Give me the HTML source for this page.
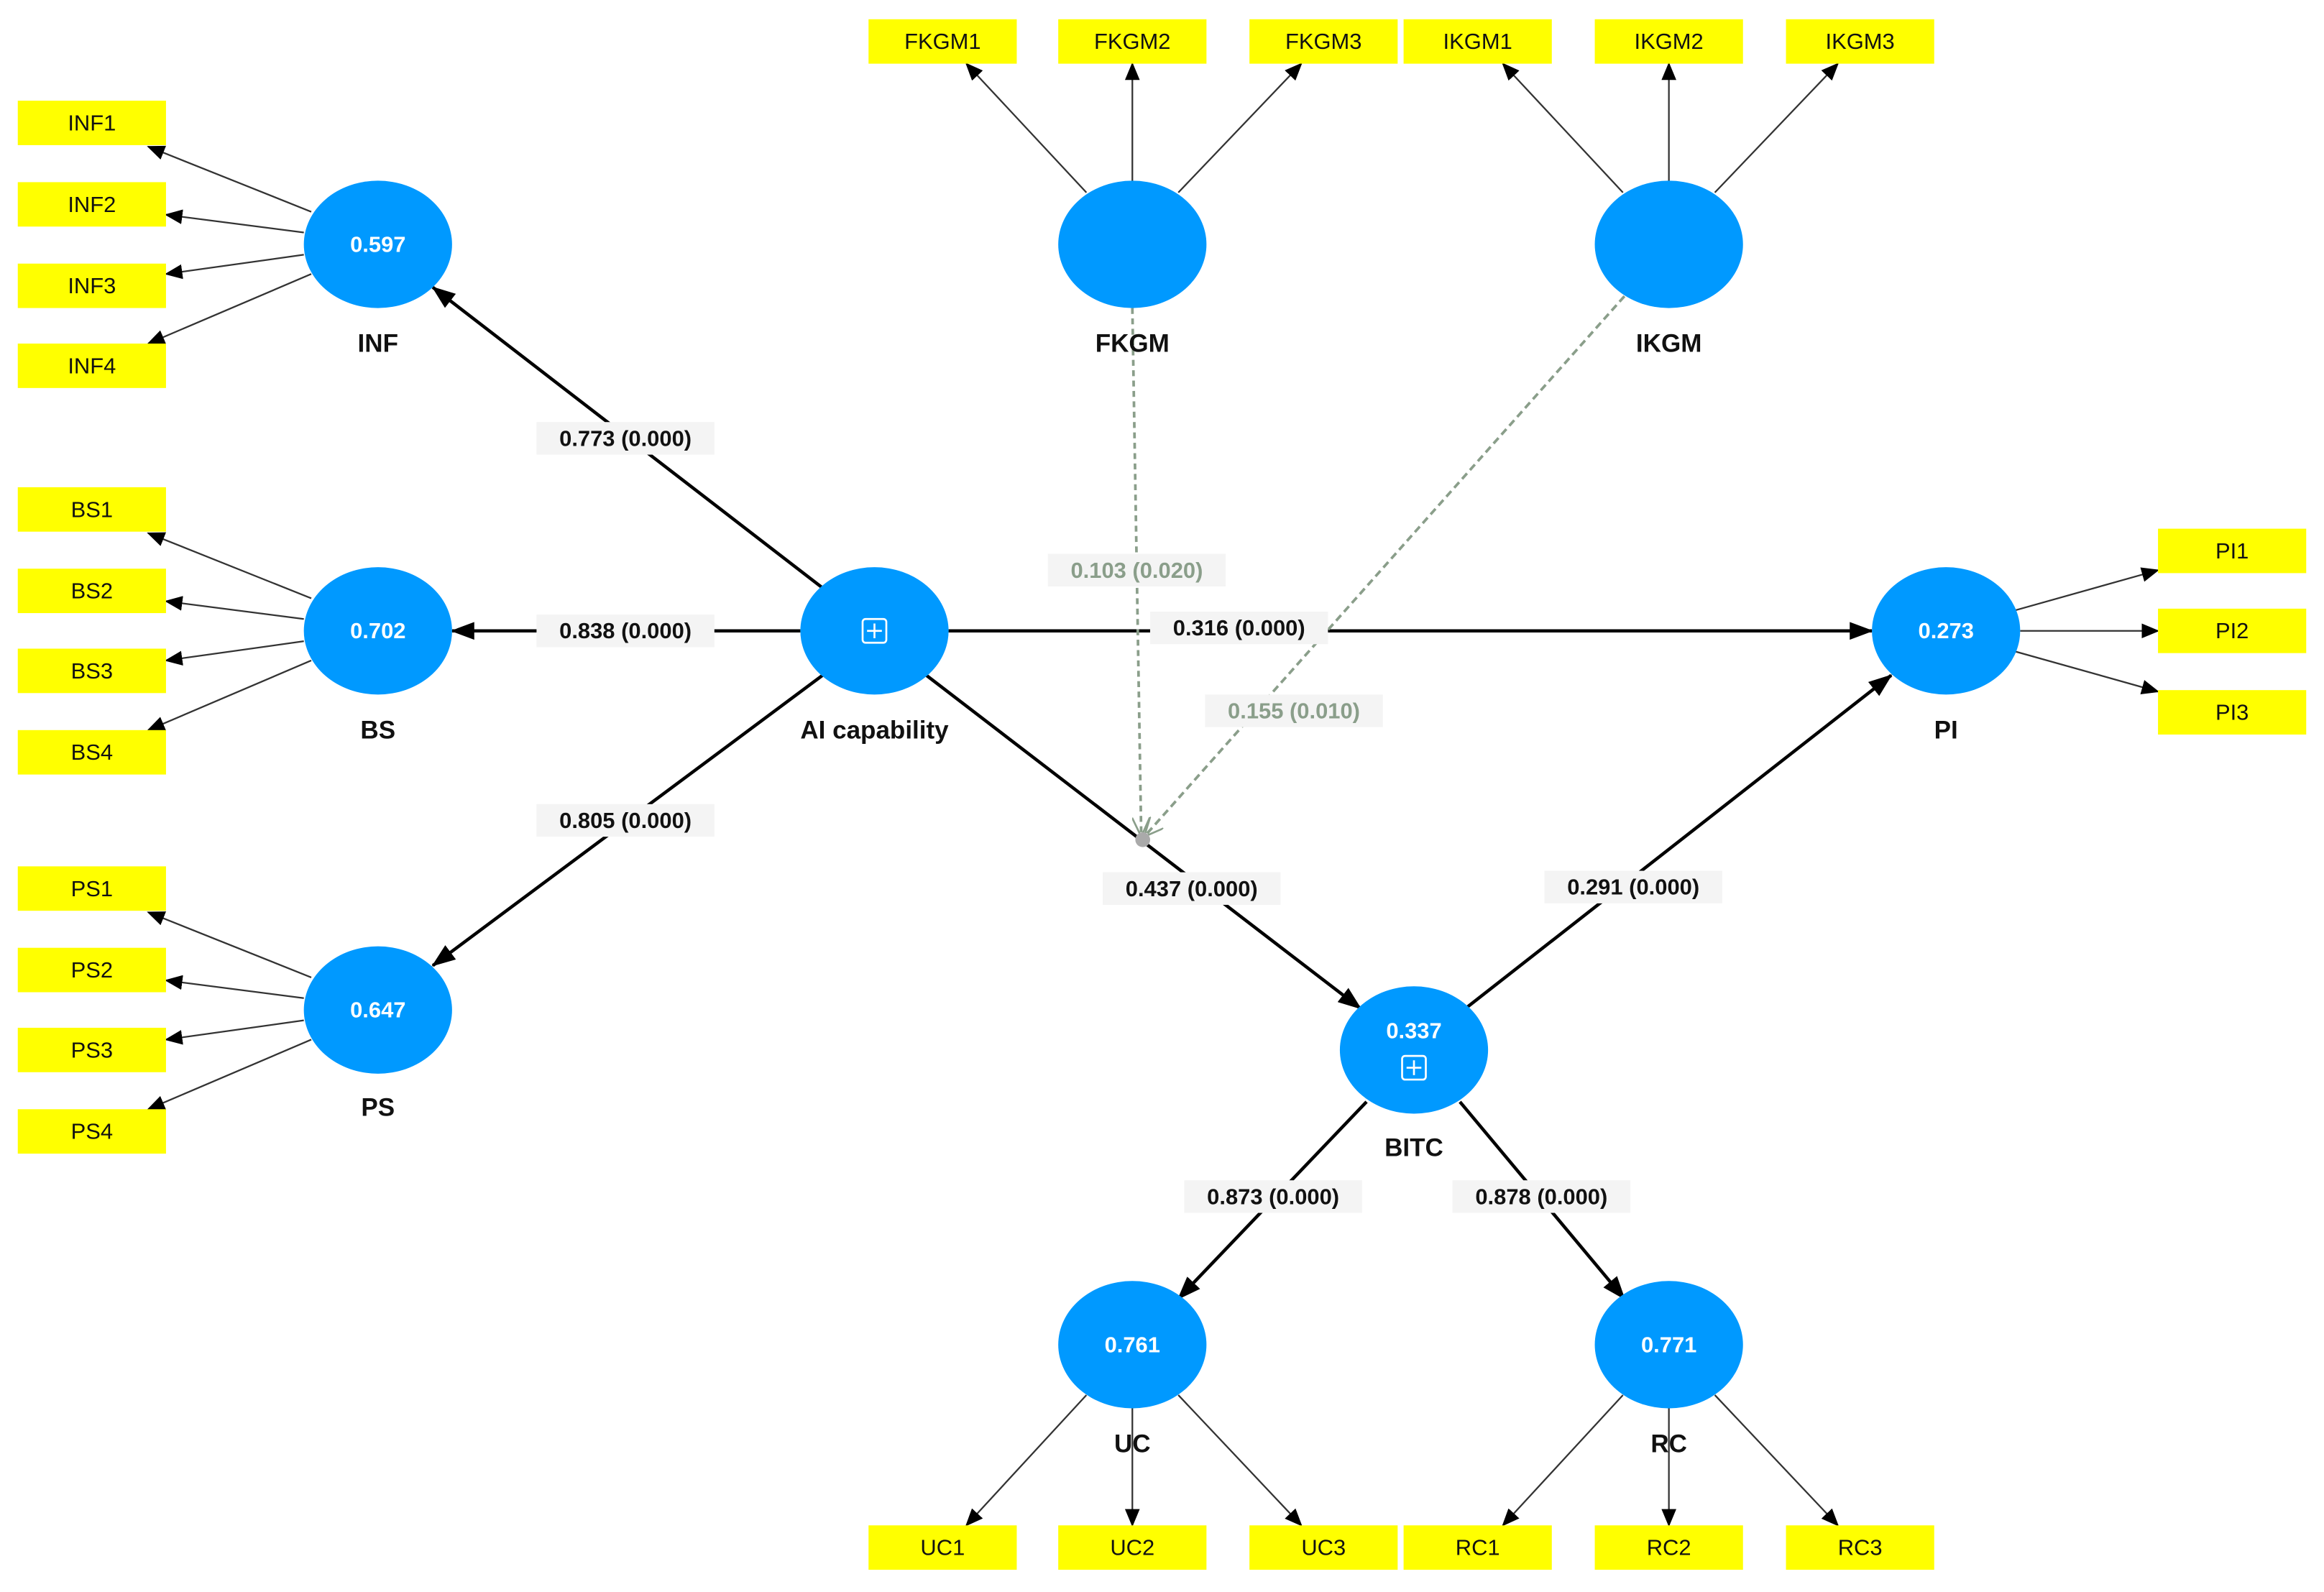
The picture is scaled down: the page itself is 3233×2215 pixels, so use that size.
<!DOCTYPE html>
<html><head><meta charset="utf-8"><style>
html,body{margin:0;padding:0;background:#fff;width:3233px;height:2215px;overflow:hidden}
svg{display:block}
text{font-family:"Liberation Sans",sans-serif}
.box{fill:#ffff00}
.bt{font-size:15px;fill:#111;text-anchor:middle;dominant-baseline:central}
.c{fill:#0099ff}
.ct{font-size:15px;fill:#fff;text-anchor:middle;dominant-baseline:central;font-weight:bold}
.nl{font-size:17px;font-weight:bold;fill:#111;text-anchor:middle;dominant-baseline:central}
.pl{font-size:15px;font-weight:bold;fill:#111;text-anchor:middle;dominant-baseline:central}
.gl{font-size:15px;font-weight:bold;fill:#8a9e8a;text-anchor:middle;dominant-baseline:central}
.ind{stroke:#333;stroke-width:1.1;fill:none;marker-end:url(#a1)}
.pth{stroke:#000;stroke-width:2.2;fill:none;marker-end:url(#a2)}
.lb{fill:#f4f4f4}
</style></head><body>
<svg width="3233" height="2215" viewBox="0 0 1568 1075" preserveAspectRatio="none">
<defs>
<marker id="a1" markerWidth="12" markerHeight="10" refX="11" refY="5" orient="auto" markerUnits="userSpaceOnUse"><path d="M0,0 L12,5 L0,10z" fill="#000"/></marker>
<marker id="a2" markerWidth="16" markerHeight="12" refX="15" refY="6" orient="auto" markerUnits="userSpaceOnUse"><path d="M0,0 L16,6 L0,12z" fill="#000"/></marker>
<marker id="a3" markerWidth="14" markerHeight="12" refX="13" refY="6" orient="auto" markerUnits="userSpaceOnUse"><path d="M0,0 L13,6 L0,12" fill="none" stroke="#8a9e8a" stroke-width="1.3"/></marker>
</defs>

<!-- indicator arrows -->
<g>
<line class="ind" x1="210" y1="143" x2="100" y2="99"/>
<line class="ind" x1="205" y1="157" x2="112" y2="145"/>
<line class="ind" x1="205" y1="172" x2="112" y2="185"/>
<line class="ind" x1="210" y1="185" x2="100" y2="232"/>
<line class="ind" x1="210" y1="404" x2="100" y2="360"/>
<line class="ind" x1="205" y1="418" x2="112" y2="406"/>
<line class="ind" x1="205" y1="433" x2="112" y2="446"/>
<line class="ind" x1="210" y1="446" x2="100" y2="493"/>
<line class="ind" x1="210" y1="660" x2="100" y2="616"/>
<line class="ind" x1="205" y1="674" x2="112" y2="662"/>
<line class="ind" x1="205" y1="689" x2="112" y2="702"/>
<line class="ind" x1="210" y1="702" x2="100" y2="749"/>
<line class="ind" x1="733" y1="130" x2="652" y2="43"/>
<line class="ind" x1="764" y1="123" x2="764" y2="43"/>
<line class="ind" x1="795" y1="130" x2="878" y2="43"/>
<line class="ind" x1="1095" y1="130" x2="1014" y2="43"/>
<line class="ind" x1="1126" y1="123" x2="1126" y2="43"/>
<line class="ind" x1="1157" y1="130" x2="1240" y2="43"/>
<line class="ind" x1="733" y1="942" x2="652" y2="1030"/>
<line class="ind" x1="764" y1="950" x2="764" y2="1030"/>
<line class="ind" x1="795" y1="942" x2="878" y2="1030"/>
<line class="ind" x1="1095" y1="942" x2="1014" y2="1030"/>
<line class="ind" x1="1126" y1="950" x2="1126" y2="1030"/>
<line class="ind" x1="1157" y1="942" x2="1240" y2="1030"/>
<line class="ind" x1="1360" y1="412" x2="1456" y2="385"/>
<line class="ind" x1="1363" y1="426" x2="1456" y2="426"/>
<line class="ind" x1="1360" y1="440" x2="1456" y2="467"/>
</g>

<!-- path arrows -->
<line class="pth" x1="555" y1="397" x2="292" y2="194"/>
<line class="pth" x1="540" y1="426" x2="305" y2="426"/>
<line class="pth" x1="555" y1="456" x2="292" y2="652"/>
<line class="pth" x1="640" y1="426" x2="1263" y2="426"/>
<line class="pth" x1="625" y1="456" x2="918" y2="681"/>
<line class="pth" x1="990" y1="680" x2="1276" y2="456"/>
<line class="pth" x1="922" y1="744" x2="795" y2="877"/>
<line class="pth" x1="985" y1="744" x2="1096" y2="877"/>

<!-- moderating dashed -->
<line x1="764" y1="208" x2="770" y2="565" stroke="#8a9e8a" stroke-width="1.8" stroke-dasharray="4,3" marker-end="url(#a3)"/>
<line x1="1096" y1="200" x2="772" y2="565" stroke="#8a9e8a" stroke-width="1.8" stroke-dasharray="5,3" marker-end="url(#a3)"/>
<circle cx="771" cy="567" r="5" fill="#aaa"/>

<!-- path labels -->
<rect class="lb" x="362" y="285" width="120" height="22"/><text class="pl" x="422" y="296">0.773 (0.000)</text>
<rect class="lb" x="362" y="415" width="120" height="22"/><text class="pl" x="422" y="426">0.838 (0.000)</text>
<rect class="lb" x="362" y="543" width="120" height="22"/><text class="pl" x="422" y="554">0.805 (0.000)</text>
<rect class="lb" x="776" y="413" width="120" height="22"/><text class="pl" x="836" y="424">0.316 (0.000)</text>
<rect class="lb" x="744" y="589" width="120" height="22"/><text class="pl" x="804" y="600">0.437 (0.000)</text>
<rect class="lb" x="1042" y="588" width="120" height="22"/><text class="pl" x="1102" y="599">0.291 (0.000)</text>
<rect class="lb" x="799" y="797" width="120" height="22"/><text class="pl" x="859" y="808">0.873 (0.000)</text>
<rect class="lb" x="980" y="797" width="120" height="22"/><text class="pl" x="1040" y="808">0.878 (0.000)</text>
<rect class="lb" x="707" y="374" width="120" height="22"/><text class="gl" x="767" y="385">0.103 (0.020)</text>
<rect class="lb" x="813" y="469" width="120" height="22"/><text class="gl" x="873" y="480">0.155 (0.010)</text>

<!-- circles -->
<g>
<ellipse class="c" cx="255" cy="165" rx="50" ry="43"/><text class="ct" x="255" y="165">0.597</text><text class="nl" x="255" y="232">INF</text>
<ellipse class="c" cx="255" cy="426" rx="50" ry="43"/><text class="ct" x="255" y="426">0.702</text><text class="nl" x="255" y="493">BS</text>
<ellipse class="c" cx="255" cy="682" rx="50" ry="43"/><text class="ct" x="255" y="682">0.647</text><text class="nl" x="255" y="748">PS</text>
<ellipse class="c" cx="590" cy="426" rx="50" ry="43"/><text class="nl" x="590" y="493">AI capability</text>
<rect x="582" y="418" width="16" height="16" rx="2" fill="none" stroke="#fff" stroke-width="1.3"/><path d="M590,421v10M585,426h10" stroke="#fff" stroke-width="1.3"/>
<ellipse class="c" cx="764" cy="165" rx="50" ry="43"/><text class="nl" x="764" y="232">FKGM</text>
<ellipse class="c" cx="1126" cy="165" rx="50" ry="43"/><text class="nl" x="1126" y="232">IKGM</text>
<ellipse class="c" cx="1313" cy="426" rx="50" ry="43"/><text class="ct" x="1313" y="426">0.273</text><text class="nl" x="1313" y="493">PI</text>
<ellipse class="c" cx="954" cy="709" rx="50" ry="43"/><text class="ct" x="954" y="696">0.337</text><text class="nl" x="954" y="775">BITC</text>
<rect x="946" y="713" width="16" height="16" rx="2" fill="none" stroke="#fff" stroke-width="1.3"/><path d="M954,716v10M949,721h10" stroke="#fff" stroke-width="1.3"/>
<ellipse class="c" cx="764" cy="908" rx="50" ry="43"/><text class="ct" x="764" y="908">0.761</text><text class="nl" x="764" y="975">UC</text>
<ellipse class="c" cx="1126" cy="908" rx="50" ry="43"/><text class="ct" x="1126" y="908">0.771</text><text class="nl" x="1126" y="975">RC</text>
</g>

<!-- boxes -->
<g>
<rect class="box" x="12" y="68" width="100" height="30"/><text class="bt" x="62" y="83">INF1</text>
<rect class="box" x="12" y="123" width="100" height="30"/><text class="bt" x="62" y="138">INF2</text>
<rect class="box" x="12" y="178" width="100" height="30"/><text class="bt" x="62" y="193">INF3</text>
<rect class="box" x="12" y="232" width="100" height="30"/><text class="bt" x="62" y="247">INF4</text>
<rect class="box" x="12" y="329" width="100" height="30"/><text class="bt" x="62" y="344">BS1</text>
<rect class="box" x="12" y="384" width="100" height="30"/><text class="bt" x="62" y="399">BS2</text>
<rect class="box" x="12" y="438" width="100" height="30"/><text class="bt" x="62" y="453">BS3</text>
<rect class="box" x="12" y="493" width="100" height="30"/><text class="bt" x="62" y="508">BS4</text>
<rect class="box" x="12" y="585" width="100" height="30"/><text class="bt" x="62" y="600">PS1</text>
<rect class="box" x="12" y="640" width="100" height="30"/><text class="bt" x="62" y="655">PS2</text>
<rect class="box" x="12" y="694" width="100" height="30"/><text class="bt" x="62" y="709">PS3</text>
<rect class="box" x="12" y="749" width="100" height="30"/><text class="bt" x="62" y="764">PS4</text>
<rect class="box" x="586" y="13" width="100" height="30"/><text class="bt" x="636" y="28">FKGM1</text>
<rect class="box" x="714" y="13" width="100" height="30"/><text class="bt" x="764" y="28">FKGM2</text>
<rect class="box" x="843" y="13" width="100" height="30"/><text class="bt" x="893" y="28">FKGM3</text>
<rect class="box" x="947" y="13" width="100" height="30"/><text class="bt" x="997" y="28">IKGM1</text>
<rect class="box" x="1076" y="13" width="100" height="30"/><text class="bt" x="1126" y="28">IKGM2</text>
<rect class="box" x="1205" y="13" width="100" height="30"/><text class="bt" x="1255" y="28">IKGM3</text>
<rect class="box" x="586" y="1030" width="100" height="30"/><text class="bt" x="636" y="1045">UC1</text>
<rect class="box" x="714" y="1030" width="100" height="30"/><text class="bt" x="764" y="1045">UC2</text>
<rect class="box" x="843" y="1030" width="100" height="30"/><text class="bt" x="893" y="1045">UC3</text>
<rect class="box" x="947" y="1030" width="100" height="30"/><text class="bt" x="997" y="1045">RC1</text>
<rect class="box" x="1076" y="1030" width="100" height="30"/><text class="bt" x="1126" y="1045">RC2</text>
<rect class="box" x="1205" y="1030" width="100" height="30"/><text class="bt" x="1255" y="1045">RC3</text>
<rect class="box" x="1456" y="357" width="100" height="30"/><text class="bt" x="1506" y="372">PI1</text>
<rect class="box" x="1456" y="411" width="100" height="30"/><text class="bt" x="1506" y="426">PI2</text>
<rect class="box" x="1456" y="466" width="100" height="30"/><text class="bt" x="1506" y="481">PI3</text>
</g>
</svg>
</body></html>
